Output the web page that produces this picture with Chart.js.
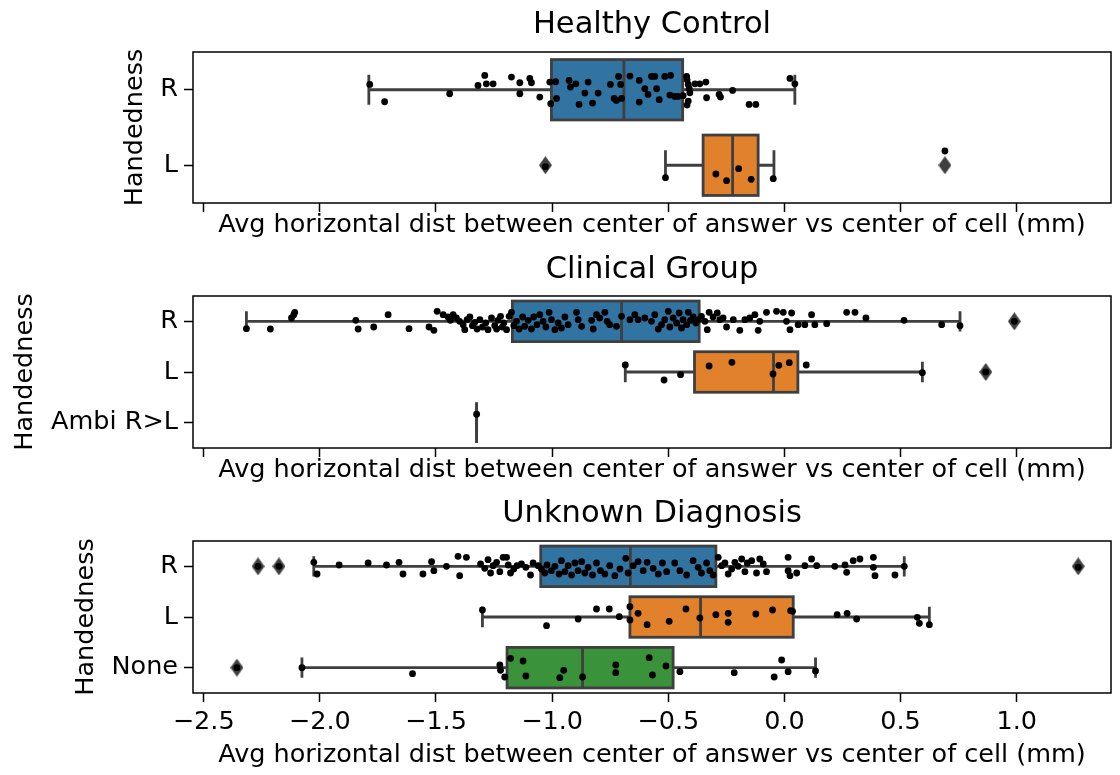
<!DOCTYPE html>
<html>
<head>
<meta charset="utf-8">
<script src="https://cdn.jsdelivr.net/npm/chart.js@4.4.1/dist/chart.umd.min.js"></script>
<style>
  html, body { margin: 0; padding: 0; background: #fff; }
  #wrap { position: relative; width: 1120px; height: 775px; }
  #wrap canvas { position: absolute; left: 0; }
</style>
</head>
<body>
<div id="wrap">
  <canvas id="hcChart" width="1120" height="245" style="top:0"></canvas>
  <canvas id="clinChart" width="1120" height="246" style="top:244px"></canvas>
  <canvas id="unkChart" width="1120" height="285" style="top:490px"></canvas>
</div>
<script>
// ---- shared axis ----
const xMin = -2.546;
const xMax = 1.406;
const xTicks = [-2.5, -2.0, -1.5, -1.0, -0.5, 0.0, 0.5, 1.0];
const xLabel = 'Avg horizontal dist between center of answer vs center of cell (mm)';
const yLabel = 'Handedness';

// ---- Healthy Control ----
const hcCategories = ['R', 'L'];
const hcLow = [-1.789, -0.512];
const hcQ1 = [-1.003, -0.350];
const hcMedian = [-0.691, -0.223];
const hcQ3 = [-0.438, -0.113];
const hcHigh = [0.045, -0.045];
const hcOutliers = [[], [-1.029, 0.691]];
const hcRValues = [-1.785, -1.721, -1.441, -1.319, -1.290, -1.283, -1.254, -1.175, -1.139, -1.139,
  -1.096, -1.089, -1.053, -1.010, -1.006, -0.985, -0.981, -0.927, -0.921, -0.898,
  -0.884, -0.859, -0.845, -0.826, -0.802, -0.749, -0.733, -0.723, -0.714, -0.705,
  -0.701, -0.665, -0.625, -0.625, -0.601, -0.587, -0.572, -0.558, -0.550, -0.539,
  -0.515, -0.490, -0.493, -0.472, -0.457, -0.436, -0.421, -0.419, -0.414, -0.410,
  -0.407, -0.414, -0.419, -0.385, -0.364, -0.338, -0.335, -0.281, -0.275, -0.223,
  -0.152, -0.123, 0.024, 0.045];
const hcRJitter = [-0.071, 0.159, 0.053, -0.057, -0.190, -0.079, -0.079, -0.168, -0.093, 0.053,
  -0.150, -0.093, 0.097, -0.102, 0.185, -0.106, 0.115, -0.124, -0.035, -0.079,
  0.194, 0.044, -0.102, 0.177, 0.044, -0.071, 0.115, 0.141, -0.177, -0.071,
  0.115, -0.181, -0.124, 0.163, -0.013, 0.062, -0.177, -0.177, -0.013, 0.132,
  -0.177, -0.190, 0.071, 0.088, 0.088, 0.079, -0.177, -0.132, -0.071, -0.018,
  0.040, 0.150, 0.203, -0.079, -0.079, -0.102, 0.106, 0.062, 0.097, 0.009,
  0.194, 0.194, -0.150, -0.079];
const hcLValues = [-1.029, -0.512, -0.295, -0.249, -0.197, -0.143, -0.048, 0.691];
const hcLJitter = [0.02, 0.164, 0.116, 0.204, 0.045, 0.187, 0.178, -0.189];

// ---- Clinical Group ----
const clinCategories = ['R', 'L', 'Ambi R>L'];
const clinLow = [-2.316, -0.685, -1.325];
const clinQ1 = [-1.171, -0.387, -1.325];
const clinMedian = [-0.701, -0.047, -1.325];
const clinQ3 = [-0.367, 0.058, -1.325];
const clinHigh = [0.756, 0.594, -1.325];
const clinOutliers = [[0.990], [0.867], []];
const clinRValues = [-2.316, -2.213, -2.122, -2.112, -2.108, -1.845, -1.835, -1.768, -1.706, -1.616,
  -1.530, -1.509, -1.495, -1.469, -1.448, -1.438, -1.426, -1.412, -1.398, -1.383,
  -1.376, -1.366, -1.354, -1.343, -1.333, -1.323, -1.311, -1.300, -1.286, -1.276,
  -1.261, -1.247, -1.239, -1.233, -1.222, -1.214, -1.208, -1.196, -1.185, -1.175,
  -1.165, -1.153, -1.142, -1.127, -1.118, -1.103, -1.089, -1.079, -1.065, -1.053,
  -1.039, -1.027, -1.013, -1.003, -0.988, -0.974, -0.960, -0.945, -0.931, -0.895,
  -0.888, -0.873, -0.830, -0.823, -0.809, -0.795, -0.773, -0.763, -0.752, -0.723,
  -0.701, -0.665, -0.644, -0.630, -0.601, -0.572, -0.558, -0.543, -0.529, -0.515,
  -0.500, -0.493, -0.479, -0.464, -0.453, -0.443, -0.436, -0.421, -0.414, -0.404,
  -0.393, -0.381, -0.371, -0.357, -0.342, -0.332, -0.324, -0.307, -0.289, -0.278,
  -0.264, -0.249, -0.220, -0.192, -0.170, -0.149, -0.127, -0.113, -0.106, -0.077,
  -0.034, -0.005, 0.009, 0.024, 0.031, 0.059, 0.088, 0.117, 0.131, 0.182,
  0.268, 0.304, 0.351, 0.515, 0.677, 0.756, 0.990];
const clinRJitter = [0.145, 0.151, -0.066, -0.132, -0.178, -0.020, 0.151, 0.112, -0.132, 0.145,
  0.112, 0.178, -0.197, -0.132, -0.086, -0.020, -0.132, -0.066, 0, 0.066,
  0.164, -0.033, -0.086, 0.086, 0.020, 0.151, -0.033, 0.112, 0.033, 0.164,
  -0.066, 0.086, 0.151, -0.020, -0.099, 0.112, 0.033, 0.164, -0.099, -0.178,
  0.086, 0, 0.151, -0.086, 0.099, -0.020, 0.151, -0.086, 0.066, -0.132,
  0, 0.112, -0.178, -0.033, 0.164, 0.033, 0.132, -0.086, 0.066, -0.178,
  -0.033, 0.099, -0.020, 0.151, -0.132, -0.066, -0.178, 0, 0.066, 0.099,
  -0.099, -0.033, -0.132, -0.033, -0.066, 0, -0.132, 0.151, 0.066, -0.033,
  -0.197, 0.112, -0.066, 0.033, -0.164, 0.132, -0.033, 0.066, -0.178, -0.020,
  -0.086, 0.033, -0.033, -0.099, 0, 0.164, -0.178, -0.086, -0.164, -0.033,
  -0.066, 0.112, -0.033, 0.178, -0.033, -0.066, -0.132, 0.178, 0, -0.178,
  -0.197, -0.178, 0, 0.164, -0.164, 0.066, 0.066, -0.132, 0.066, 0.046,
  -0.178, -0.178, -0.066, -0.020, 0.066, 0.086, 0];
const clinLValues = [-0.685, -0.518, -0.447, -0.324, -0.226, -0.049, -0.024, 0.021, 0.094, 0.594, 0.867];
const clinLJitter = [-0.138, 0.158, 0.053, -0.118, -0.191, 0.039, -0.132, -0.184, -0.138, 0.013, 0];
const clinAmbiValues = [-1.325];
const clinAmbiJitter = [-0.166];

// ---- Unknown Diagnosis ----
const unkCategories = ['R', 'L', 'None'];
const unkLow = [-2.026, -1.300, -2.077];
const unkQ1 = [-1.049, -0.665, -1.194];
const unkMedian = [-0.663, -0.361, -0.869];
const unkQ3 = [-0.295, 0.038, -0.479];
const unkHigh = [0.516, 0.624, 0.134];
const unkOutliers = [[-2.266, -2.176, 1.265], [], [-2.357]];
const unkRValues = [-2.266, -2.176, -2.026, -2.012, -1.917, -1.792, -1.713, -1.659, -1.642, -1.556,
  -1.519, -1.509, -1.455, -1.405, -1.398, -1.369, -1.308, -1.290, -1.276, -1.265,
  -1.254, -1.239, -1.225, -1.211, -1.196, -1.189, -1.179, -1.165, -1.151, -1.132,
  -1.113, -1.093, -1.082, -1.060, -1.046, -1.031, -1.022, -1.003, -0.988, -0.970,
  -0.960, -0.945, -0.931, -0.916, -0.902, -0.888, -0.873, -0.859, -0.845, -0.826,
  -0.809, -0.792, -0.773, -0.752, -0.730, -0.708, -0.683, -0.673, -0.651, -0.630,
  -0.608, -0.591, -0.565, -0.543, -0.525, -0.507, -0.472, -0.450, -0.421, -0.393,
  -0.371, -0.357, -0.335, -0.321, -0.307, -0.285, -0.270, -0.256, -0.242, -0.227,
  -0.213, -0.199, -0.184, -0.170, -0.160, -0.141, -0.120, -0.106, -0.091, -0.077,
  0.016, 0.016, 0.024, 0.053, 0.088, 0.117, 0.139, 0.217, 0.261, 0.268,
  0.296, 0.325, 0.383, 0.383, 0.390, 0.476, 0.516, 1.265];
const unkRJitter = [0, 0, -0.079, 0.151, -0.026, -0.066, -0.026, -0.079, 0.151, 0.151,
  -0.092, 0.086, 0, -0.197, 0.184, -0.178, -0.046, 0.039, -0.132, 0.132,
  -0.013, -0.079, 0.105, -0.178, -0.178, -0.026, 0.132, 0.053, -0.013, -0.046,
  0.020, 0.171, -0.066, -0.013, 0.053, 0.132, -0.026, 0.086, 0, 0.151,
  -0.112, 0.105, -0.013, 0.171, -0.066, 0.086, -0.092, 0.132, 0.020, 0.171,
  -0.066, 0.086, 0.151, -0.013, 0.184, 0.053, -0.158, 0.132, -0.013, -0.092,
  0.086, -0.079, 0.039, 0.151, -0.066, 0.105, -0.066, 0.086, 0.171, -0.112,
  0.020, 0.132, -0.066, 0.086, 0.171, -0.178, -0.013, -0.066, 0.151, 0.053,
  -0.079, 0, -0.145, 0.105, -0.066, -0.112, 0.132, -0.145, -0.046, 0.105,
  -0.178, 0.086, 0.184, 0.132, -0.013, -0.145, -0.013, 0, -0.026, 0.118,
  -0.112, -0.145, -0.178, 0.020, 0.184, 0.171, 0, 0.020];
const unkLValues = [-1.300, -1.024, -0.888, -0.809, -0.754, -0.711, -0.665, -0.665, -0.630, -0.591,
  -0.496, -0.424, -0.364, -0.295, -0.242, -0.242, -0.123, -0.051, 0.027, 0.035,
  0.227, 0.270, 0.311, 0.572, 0.581, 0.624];
const unkLJitter = [-0.138, 0.171, 0.039, -0.158, -0.158, -0.007, -0.204, 0.059, -0.072, 0.151,
  0.086, -0.158, 0.020, -0.046, -0.072, 0.105, -0.059, -0.138, -0.125, -0.112,
  -0.046, -0.072, 0.039, 0.007, 0.125, 0.151];
const unkNoneValues = [-2.357, -2.077, -1.601, -1.225, -1.222, -1.204, -1.179, -1.125, -1.113, -0.967,
  -0.950, -0.869, -0.726, -0.726, -0.582, -0.568, -0.510, -0.450, -0.216, -0.044,
  -0.012, 0.016, 0.134];
const unkNoneJitter = [0, 0, 0.118, -0.053, 0.053, 0.184, -0.184, -0.132, 0.164, 0.197,
  0.053, 0.184, -0.053, 0.099, -0.197, 0.145, -0.033, 0.079, 0.099, 0.184,
  -0.151, 0.079, 0.066];

// ---- styling ----
const FAMILY = "'DejaVu Sans', sans-serif";
const LABEL_FONT = { family: FAMILY, size: 25.5, lineHeight: 1.2 };
const TITLE_FONT = { family: FAMILY, size: 30.5, lineHeight: 1.2 };
const LINE_COLOR = '#3f3f3f';
const BOX_COLORS = ['#3274a1', '#e1812c', '#3a923a'];

Chart.defaults.font.family = FAMILY;
Chart.defaults.color = '#000';

function makeDiamond() {
  const c = document.createElement('canvas');
  c.width = 13;
  c.height = 18;
  const g = c.getContext('2d');
  g.fillStyle = LINE_COLOR;
  g.beginPath();
  g.moveTo(6.5, 0);
  g.lineTo(13, 9);
  g.lineTo(6.5, 18);
  g.lineTo(0, 9);
  g.closePath();
  g.fill();
  return c;
}
const diamond = makeDiamond();

function fmtTick(v) {
  return (v < 0 ? '\u2212' : '') + Math.abs(v).toFixed(1);
}

function drawGroup(canvasId, group, layout) {
  const points = [];
  group.rows.forEach((row, i) => {
    row.values.forEach((v, k) => points.push({ x: v, y: i + row.jitter[k] }));
  });
  const fliers = [];
  group.outliers.forEach((list, i) => list.forEach(v => fliers.push({ x: v, y: i })));

  const boxPlugin = {
    id: 'boxes',
    beforeDatasetsDraw(chart) {
      const { ctx, scales: { x, y } } = chart;
      ctx.save();
      ctx.lineWidth = 2.8;
      ctx.strokeStyle = LINE_COLOR;
      group.categories.forEach((cat, i) => {
        const yc = y.getPixelForValue(i);
        const half = Math.abs(y.getPixelForValue(i + 0.4) - yc);
        const cap = half / 2;
        const xl = x.getPixelForValue(group.low[i]);
        const x1 = x.getPixelForValue(group.q1[i]);
        const xm = x.getPixelForValue(group.median[i]);
        const x3 = x.getPixelForValue(group.q3[i]);
        const xh = x.getPixelForValue(group.high[i]);

        ctx.beginPath();
        ctx.moveTo(xl, yc); ctx.lineTo(x1, yc);
        ctx.moveTo(x3, yc); ctx.lineTo(xh, yc);
        ctx.moveTo(xl, yc - cap); ctx.lineTo(xl, yc + cap);
        ctx.moveTo(xh, yc - cap); ctx.lineTo(xh, yc + cap);
        ctx.stroke();

        ctx.fillStyle = BOX_COLORS[i];
        ctx.fillRect(x1, yc - half, x3 - x1, 2 * half);
        ctx.strokeRect(x1, yc - half, x3 - x1, 2 * half);

        ctx.beginPath();
        ctx.moveTo(xm, yc - half);
        ctx.lineTo(xm, yc + half);
        ctx.stroke();
      });
      ctx.restore();
    },
    afterDraw(chart) {
      const { ctx, chartArea: a } = chart;
      ctx.save();
      ctx.lineWidth = 1.5;
      ctx.strokeStyle = '#000';
      ctx.strokeRect(a.left, a.top, a.right - a.left, a.bottom - a.top);
      ctx.restore();
    }
  };

  const tickGrid = {
    display: true,
    drawOnChartArea: false,
    drawTicks: true,
    tickLength: 9,
    tickWidth: 1.5,
    tickColor: '#000'
  };

  return new Chart(document.getElementById(canvasId), {
    type: 'scatter',
    data: {
      datasets: [
        {
          data: points,
          xAxisID: 'x',
          yAxisID: 'y',
          pointRadius: 3.4,
          pointHoverRadius: 3.4,
          pointBackgroundColor: '#000',
          pointBorderWidth: 0
        },
        {
          data: fliers,
          xAxisID: 'x',
          yAxisID: 'y',
          pointStyle: diamond,
          pointRadius: 6,
          pointHoverRadius: 6
        }
      ]
    },
    options: {
      responsive: false,
      animation: false,
      events: [],
      layout: { padding: { left: 0, right: 9, top: 0, bottom: 0 } },
      plugins: {
        legend: { display: false },
        tooltip: { enabled: false }
      },
      scales: {
        titleAxis: {
          type: 'linear',
          axis: 'x',
          position: 'top',
          ticks: { display: false },
          grid: { display: false },
          border: { display: false },
          afterFit: s => { s.height = layout.topHeight; },
          title: {
            display: true,
            text: group.title,
            font: TITLE_FONT,
            color: '#000',
            padding: { top: layout.titlePad, bottom: 0 }
          }
        },
        x: {
          type: 'linear',
          position: 'bottom',
          min: xMin,
          max: xMax,
          afterBuildTicks: s => { s.ticks = xTicks.map(v => ({ value: v })); },
          afterFit: s => { s.height = layout.xHeight; },
          ticks: {
            display: group.showTickLabels,
            callback: v => fmtTick(v),
            font: LABEL_FONT,
            color: '#000',
            padding: 5,
            maxRotation: 0,
            autoSkip: false
          },
          grid: tickGrid,
          border: { display: false },
          title: {
            display: true,
            text: xLabel,
            font: LABEL_FONT,
            color: '#000',
            padding: { top: 0, bottom: layout.xTitlePad }
          }
        },
        y: {
          type: 'linear',
          position: 'left',
          reverse: true,
          min: -0.5,
          max: group.categories.length - 0.5,
          afterBuildTicks: s => { s.ticks = group.categories.map((c, i) => ({ value: i })); },
          afterFit: s => { s.width = 193; },
          ticks: {
            callback: v => group.categories[v],
            font: LABEL_FONT,
            color: '#000',
            padding: 6,
            autoSkip: false
          },
          grid: tickGrid,
          border: { display: false },
          title: {
            display: true,
            text: yLabel,
            font: LABEL_FONT,
            color: '#000',
            padding: { top: layout.yTitlePad, bottom: 0 }
          }
        }
      }
    },
    plugins: [boxPlugin]
  });
}

drawGroup('hcChart', {
  title: 'Healthy Control',
  categories: hcCategories,
  rows: [
    { values: hcRValues, jitter: hcRJitter },
    { values: hcLValues, jitter: hcLJitter }
  ],
  low: hcLow, q1: hcQ1, median: hcMedian, q3: hcQ3, high: hcHigh,
  outliers: hcOutliers,
  showTickLabels: false
}, { topHeight: 52, titlePad: 7, xHeight: 42, xTitlePad: 4, yTitlePad: 120 });

drawGroup('clinChart', {
  title: 'Clinical Group',
  categories: clinCategories,
  rows: [
    { values: clinRValues, jitter: clinRJitter },
    { values: clinLValues, jitter: clinLJitter },
    { values: clinAmbiValues, jitter: clinAmbiJitter }
  ],
  low: clinLow, q1: clinQ1, median: clinMedian, q3: clinQ3, high: clinHigh,
  outliers: clinOutliers,
  showTickLabels: false
}, { topHeight: 52, titlePad: 8, xHeight: 42, xTitlePad: 4, yTitlePad: 10 });

drawGroup('unkChart', {
  title: 'Unknown Diagnosis',
  categories: unkCategories,
  rows: [
    { values: unkRValues, jitter: unkRJitter },
    { values: unkLValues, jitter: unkLJitter },
    { values: unkNoneValues, jitter: unkNoneJitter }
  ],
  low: unkLow, q1: unkQ1, median: unkMedian, q3: unkQ3, high: unkHigh,
  outliers: unkOutliers,
  showTickLabels: true
}, { topHeight: 51, titlePad: 6, xHeight: 82, xTitlePad: 4, yTitlePad: 71 });
</script>
</body>
</html>
